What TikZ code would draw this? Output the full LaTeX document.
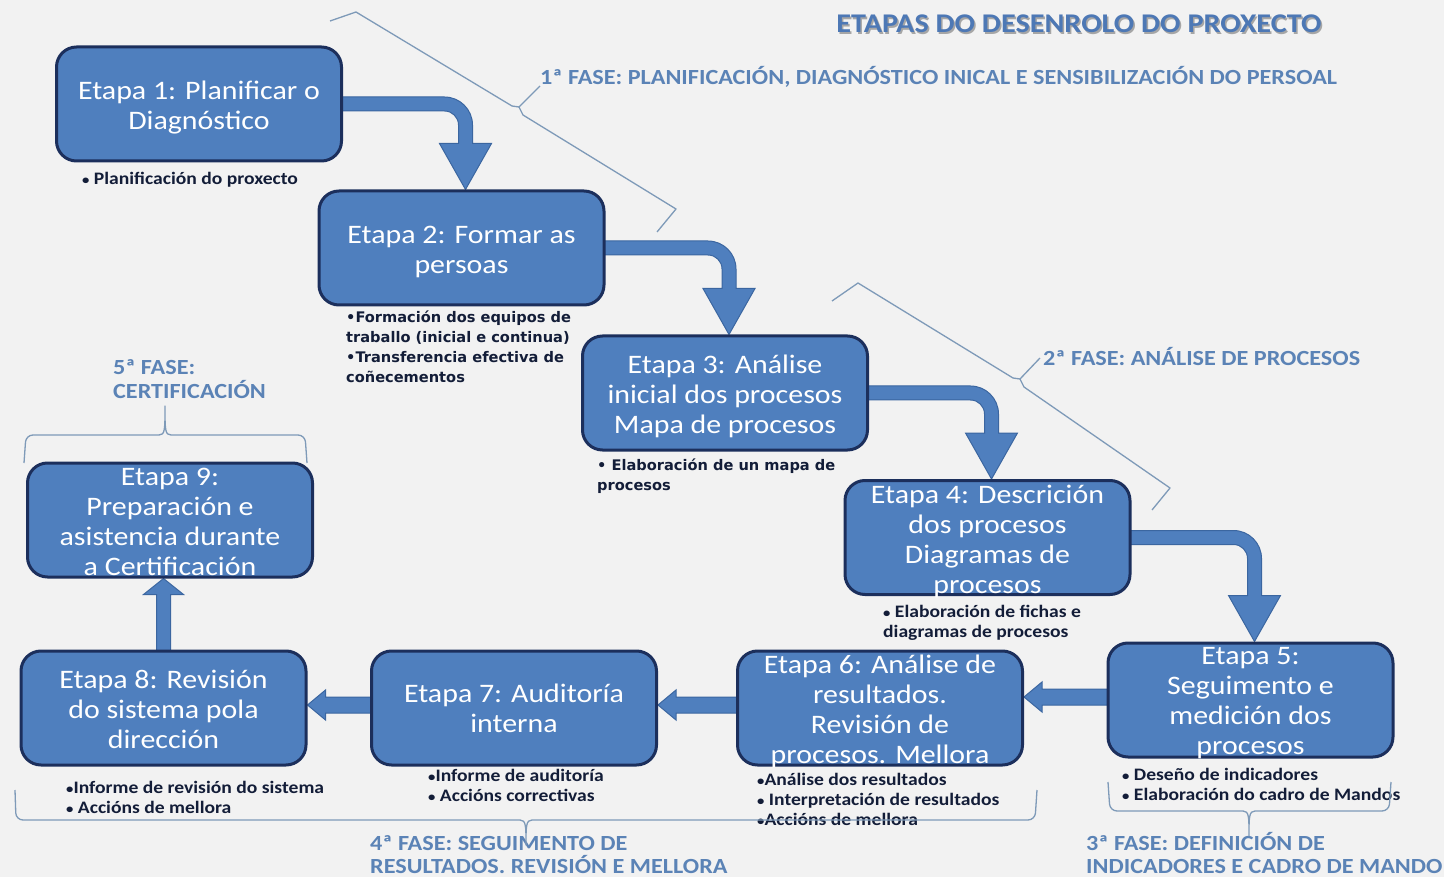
\documentclass[tikz,border=0pt]{standalone}
\usepackage{fontspec}
\setmainfont[FakeStretch=1.12]{Carlito}
\newfontfamily\vfont{DejaVu Sans}
\usetikzlibrary{calc}
\definecolor{bgc}{HTML}{F2F2F2}
\definecolor{boxfill}{HTML}{4F7FBE}
\definecolor{boxline}{HTML}{1C2F5C}
\definecolor{arrline}{HTML}{3B66A0}
\definecolor{fase}{HTML}{5B83B6}
\definecolor{bracec}{HTML}{7E9AB8}
\definecolor{note}{HTML}{131D38}
\definecolor{titlec}{HTML}{4D78B5}
\newcommand\bul{\raisebox{0.4pt}{\scalebox{0.75}{•}}}
\pgfdeclarelayer{bglayer}
\pgfdeclarelayer{arrlayer}
\pgfsetlayers{bglayer,arrlayer,main}
\tikzset{
 etapa/.style={draw=boxline, line width=3pt, fill=boxfill, rounded corners=20pt,
   minimum width=285pt, minimum height=114pt, inner sep=0pt},
 etext/.style={text=white, align=center, inner sep=0pt, yshift=-3.5pt, font=\fontsize{26.7}{30}\selectfont},
 blockarr/.style={fill=boxfill, draw=arrline, line width=1pt},
 faselbl/.style={text=fase, font=\bfseries\fontsize{21.6}{23.5}\selectfont, inner sep=0pt, align=left},
 notes/.style={text=note, font=\bfseries\fontsize{17.5}{20}\selectfont, inner sep=0pt, align=left, anchor=north west},
 vnotes/.style={notes, font=\vfont\bfseries\fontsize{14.6}{19.8}\selectfont},
 bracel/.style={draw=bracec, line width=1.3pt, line join=round},
}
\newcommand\bentarrow[2]{%
 \path[blockarr] let \p1=(#1.east), \p2=($(#2.north)+(4pt,0)$) in
 (\x1-10pt,\y1+7pt) -- (\x2-21pt,\y1+7pt) arc[start angle=90,end angle=0,radius=28pt]
 -- (\x2+7pt,\y2+46pt) -- (\x2+26pt,\y2+46pt) -- (\x2,\y2) -- (\x2-26pt,\y2+46pt) -- (\x2-7pt,\y2+46pt)
 -- (\x2-7pt,\y1-21pt) arc[start angle=0,end angle=90,radius=14pt] -- (\x1-10pt,\y1-7pt) -- cycle;}
\newcommand\blockleft[3]{%
 \path[blockarr] let \p1=(#1.west), \p2=(#2.east) in
 (\x1+10pt,-#3pt+8pt) -- (\x2+18pt,-#3pt+8pt) -- (\x2+18pt,-#3pt+15pt) -- (\x2,-#3pt)
 -- (\x2+18pt,-#3pt-15pt) -- (\x2+18pt,-#3pt-8pt) -- (\x1+10pt,-#3pt-8pt) -- cycle;}
\newcommand\blockup[2]{%
 \path[blockarr] let \p1=(#1.north), \p2=(#2.south) in
 (\x1-7pt,\y1-10pt) -- (\x1-7pt,\y2-16pt) -- (\x1-20pt,\y2-16pt) -- (\x1,\y2)
 -- (\x1+20pt,\y2-16pt) -- (\x1+7pt,\y2-16pt) -- (\x1+7pt,\y1-10pt) -- cycle;}
\begin{document}
\begin{tikzpicture}[x=1pt,y=-1pt]
\begin{pgfonlayer}{bglayer}
\fill[bgc] (0,0) rectangle (1444,877);
\end{pgfonlayer}
\useasboundingbox (0,0) rectangle (1444,877);

% title
\node[text=black!35, font=\bfseries\fontsize{27}{30}\selectfont] at (1080.5,25.5) {ETAPAS DO DESENROLO DO PROXECTO};
\node[text=titlec, font=\bfseries\fontsize{27}{30}\selectfont] (title) at (1079,24) {ETAPAS DO DESENROLO DO PROXECTO};

% boxes
\node[etapa] (b1) at (199,104) {};
\node[etapa] (b2) at (461.5,248) {};
\node[etapa] (b3) at (725,393) {};
\node[etapa] (b4) at (987.5,537.5) {};
\node[etapa] (b5) at (1250.5,700) {};
\node[etapa] (b6) at (880,708) {};
\node[etapa] (b7) at (514,708) {};
\node[etapa] (b8) at (163.5,708) {};
\node[etapa] (b9) at (170,520) {};

\node[etext] (t1) at (b1) {Etapa 1: Planificar o\\Diagnóstico};
\node[etext] (t2) at (b2) {Etapa 2: Formar as\\persoas};
\node[etext] (t3) at (b3) {Etapa 3: Análise\\inicial dos procesos\\Mapa de procesos};
\node[etext] (t4) at (b4) {Etapa 4: Descrición\\dos procesos\\Diagramas de\\procesos};
\node[etext] (t5) at (b5) {Etapa 5:\\Seguimento e\\medición dos\\procesos};
\node[etext] (t6) at (b6) {Etapa 6: Análise de\\resultados.\\Revisión de\\procesos. Mellora};
\node[etext, yshift=3.5pt] (t7) at (b7) {Etapa 7: Auditoría\\interna};
\node[etext, yshift=2pt] (t8) at (b8) {Etapa 8: Revisión\\do sistema pola\\dirección};
\node[etext, yshift=2pt] (t9) at (b9) {Etapa 9:\\Preparación e\\asistencia durante\\a Certificación};

% arrows
\begin{pgfonlayer}{arrlayer}
\bentarrow{b1}{b2}
\bentarrow{b2}{b3}
\bentarrow{b3}{b4}
\bentarrow{b4}{b5}
\blockleft{b5}{b6}{697}
\blockleft{b6}{b7}{705}
\blockleft{b7}{b8}{705}
\blockup{b8}{b9}
\end{pgfonlayer}

% notes
\node[notes] (n1) at (82,172) {\bul\ Planificación do proxecto};
\node[vnotes] (n2) at (346,311) {•Formación dos equipos de\\traballo (inicial e continua)\\•Transferencia efectiva de\\coñecementos};
\node[vnotes] (n3) at (597,459) {• Elaboración de un mapa de\\procesos};
\node[notes] (n4) at (883,605) {\bul\ Elaboración de fichas e\\diagramas de procesos};
\node[notes] (n5) at (1122,768) {\bul\ Deseño de indicadores\\\bul\ Elaboración do cadro de Mandos};
\node[notes] (n6) at (757,773) {\bul Análise dos resultados\\\bul\ Interpretación de resultados\\\bul Accións de mellora};
\node[notes] (n7) at (428,769) {\bul Informe de auditoría\\\bul\ Accións correctivas};
\node[notes] (n8) at (66,781) {\bul Informe de revisión do sistema\\\bul\ Accións de mellora};

% phase labels
\node[faselbl, anchor=west] (f1) at (540,77) {1ª FASE: PLANIFICACIÓN, DIAGNÓSTICO INICAL E SENSIBILIZACIÓN DO PERSOAL};
\node[faselbl, anchor=west] (f2) at (1043,357) {2ª FASE: ANÁLISE DE PROCESOS};
\node[faselbl, anchor=north west] (f5) at (113,359.5) {5ª FASE:\\CERTIFICACIÓN};
\node[faselbl, anchor=north west] (f4) at (370,835) {4ª FASE: SEGUIMENTO DE\\RESULTADOS. REVISIÓN E MELLORA};
\node[faselbl, anchor=north west] (f3) at (1086,832) {3ª FASE: DEFINICIÓN DE\\INDICADORES E CADRO DE MANDO};

% braces
\draw[bracel] (330,21) -- (356,12) -- (512,106) -- (519,107) -- (540,86);
\draw[bracel] (519,107) -- (523,115) -- (676,209) -- (657,232);
\draw[bracel] (832,301) -- (858,283) -- (1013,378) -- (1020,379) -- (1040,358);
\draw[bracel] (1020,379) -- (1024,387) -- (1170,488) -- (1152,510);
\draw[bracel,rounded corners=7pt] (24,463) -- (26,435) -- (159,435);
\draw[bracel] (159,435) .. controls (165,435) and (165,430) .. (165,406) .. controls (165,430) and (165,435) .. (171,435);
\draw[bracel,rounded corners=7pt] (171,435) -- (305,435) -- (307,463);
\draw[bracel,rounded corners=7pt] (15,790) -- (16,820) -- (520,820);
\draw[bracel] (520,820) .. controls (526,820) and (526,826) .. (526,845) .. controls (526,826) and (526,820) .. (532,820);
\draw[bracel,rounded corners=7pt] (532,820) -- (1035,820) -- (1037,790);
\draw[bracel,rounded corners=7pt] (1108,782) -- (1110,811) -- (1243,811);
\draw[bracel] (1243,811) .. controls (1249,811) and (1249,817) .. (1249,836) .. controls (1249,817) and (1249,811) .. (1255,811);
\draw[bracel,rounded corners=7pt] (1255,811) -- (1389,811) -- (1391,782);
\end{tikzpicture}
\end{document}
